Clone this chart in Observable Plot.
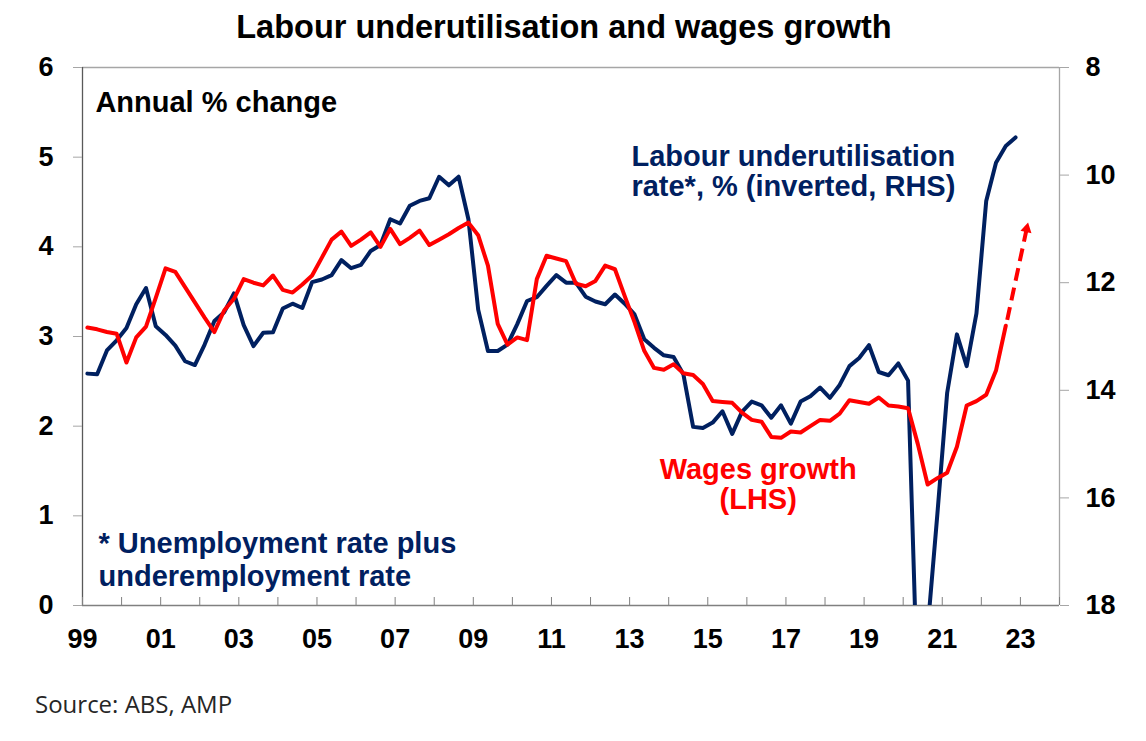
<!DOCTYPE html>
<html>
<head>
<meta charset="utf-8">
<script src="https://cdn.jsdelivr.net/npm/d3@7"></script>
<script src="https://cdn.jsdelivr.net/npm/@observablehq/plot@0.6"></script>
<style>
  html, body { margin: 0; padding: 0; background: #fff; }
  body { width: 1146px; height: 741px; overflow: hidden; position: relative; font-family: "Liberation Sans", Arial, sans-serif; }
  #title { position: absolute; left: 0; top: 11px; width: 1128px; text-align: center; font-weight: bold; font-size: 32.5px; line-height: 32px; color: #000; }
  #chart { position: absolute; left: 0; top: 54px; }
  #source { position: absolute; left: 35px; top: 692px; font-family: "Open Sans", "Noto Sans", sans-serif; font-size: 24px; line-height: 24px; color: #262626; }
</style>
</head>
<body>
<div id="title">Labour underutilisation and wages growth</div>
<div id="chart"></div>
<div id="source">Source: ABS, AMP</div>
<script>
// ---- Data (quarterly, 1999 Q1 onwards) ----
const startYear = 1999;

// Wage growth, annual % change (LHS) – 1999 Q1 to 2022 Q3
const wagesGrowth = [
  3.10, 3.08, 3.05, 3.03,   // 1999
  2.71, 2.99, 3.11, 3.43,   // 2000
  3.76, 3.72, 3.55, 3.38,   // 2001
  3.21, 3.05, 3.29, 3.42,   // 2002
  3.64, 3.60, 3.57, 3.68,   // 2003
  3.52, 3.49, 3.58, 3.68,   // 2004
  3.88, 4.08, 4.17, 4.01,   // 2005
  4.08, 4.16, 4.00, 4.20,   // 2006
  4.03, 4.10, 4.18, 4.02,   // 2007
  4.08, 4.14, 4.21, 4.27,   // 2008
  4.13, 3.79, 3.14, 2.91,   // 2009
  2.99, 2.96, 3.64, 3.90,   // 2010
  3.87, 3.84, 3.59, 3.56,   // 2011
  3.62, 3.79, 3.75, 3.45,   // 2012
  3.16, 2.84, 2.65, 2.63,   // 2013
  2.69, 2.59, 2.57, 2.47,   // 2014
  2.28, 2.27, 2.26, 2.15,   // 2015
  2.07, 2.05, 1.88, 1.87,   // 2016
  1.94, 1.93, 2.00, 2.07,   // 2017
  2.06, 2.14, 2.29, 2.27,   // 2018
  2.25, 2.32, 2.23, 2.22,   // 2019
  2.20, 1.80, 1.35, 1.42,   // 2020
  1.48, 1.77, 2.23, 2.28,   // 2021
  2.35, 2.62, 3.12          // 2022
];

// Labour underutilisation rate, % (RHS, inverted) – 1999 Q1 to 2022 Q4
const underutilisation = [
  13.69, 13.70, 13.26, 13.07,   // 1999
  12.84, 12.40, 12.10, 12.81,   // 2000
  12.97, 13.17, 13.46, 13.53,   // 2001
  13.15, 12.71, 12.55, 12.20,   // 2002
  12.79, 13.18, 12.93, 12.92,   // 2003
  12.48, 12.39, 12.47, 11.99,   // 2004
  11.94, 11.86, 11.58, 11.73,   // 2005
  11.67, 11.41, 11.30, 10.82,   // 2006
  10.90, 10.57, 10.48, 10.43,   // 2007
  10.03, 10.19, 10.03, 10.82,   // 2008
  12.50, 13.27, 13.27, 13.15,   // 2009
  12.77, 12.34, 12.27, 12.06,   // 2010
  11.86, 12.00, 12.00, 12.26,   // 2011
  12.35, 12.40, 12.22, 12.39,   // 2012
  12.59, 13.05, 13.21, 13.35,   // 2013
  13.38, 13.70, 14.68, 14.70,   // 2014
  14.60, 14.39, 14.81, 14.40,   // 2015
  14.21, 14.28, 14.51, 14.28,   // 2016
  14.62, 14.21, 14.11, 13.95,   // 2017
  14.14, 13.90, 13.55, 13.40,   // 2018
  13.16, 13.66, 13.72, 13.50,   // 2019
  13.82, 19.80, 18.45, 16.30,   // 2020
  14.05, 12.96, 13.55, 12.57,   // 2021
  10.48,  9.77,  9.46,  9.30    // 2022
];

// Axis ticks
const leftTicks = [0, 1, 2, 3, 4, 5, 6];
const rightTicks = [8, 10, 12, 14, 16, 18];
const xLabelYears = [1999, 2001, 2003, 2005, 2007, 2009, 2011, 2013, 2015, 2017, 2019, 2021, 2023];
const xTickYears = d3.range(1999, 2025);

// Forecast arrow (wages growth expected to rise)
const arrowFrom = {x: 2022.63, y: 3.12};
const arrowTo = {x: 2023.16, y: 4.20};

// Text labels
const noteAnnual = {x: 1999.33, y: 5.50, text: "Annual % change"};
const noteUnder = {x: 2017.19, y: 4.567, text: "Labour underutilisation\nrate*, % (inverted, RHS)"};
const noteWages = {x: 2016.29, y: 1.078, text: "Wages growth\n(LHS)"};
const noteFoot = {x: 1999.41, y: 0.219, text: "* Unemployment rate plus\nunderemployment rate"};

// ---- Secondary-axis mapping: RHS 8..18 (inverted) -> LHS 6..0 ----
const toLeft = r => 6 - (r - 8) * 0.6;
const fromLeft = l => Math.round(8 + (6 - l) / 0.6);

const qDate = i => startYear + (i + 0.5) / 4;
const wagesRows = wagesGrowth.map((v, i) => ({date: qDate(i), value: v}));
const underRows = underutilisation.map((v, i) => ({date: qDate(i), value: toLeft(v)}));

const textOpts = (color, anchor, lh) => ({x: "x", y: "y", text: "text", fill: color, textAnchor: anchor, lineAnchor: "bottom", fontSize: 29, fontWeight: "bold", lineHeight: lh});

const chart = Plot.plot({
  width: 1146,
  height: 606,
  marginLeft: 82,
  marginRight: 87,
  marginTop: 13,
  marginBottom: 55,
  style: {
    fontFamily: '"Liberation Sans", Arial, sans-serif',
    fontSize: "27px",
    fontWeight: "bold",
    color: "#000",
    background: "#fff",
    overflow: "visible"
  },
  x: {domain: [1999, 2024], label: null},
  y: {domain: [0, 6], label: null},
  marks: [
    Plot.ruleY([6], {stroke: "#a6a6a6", strokeWidth: 1.3}),
    Plot.ruleX([2024], {stroke: "#a6a6a6", strokeWidth: 1.3}),
    Plot.ruleX([1999], {stroke: "#595959", strokeWidth: 1.3}),
    Plot.ruleY([0], {stroke: "#808080", strokeWidth: 1.3}),
    Plot.tickX(xTickYears, {x: d => d, insetTop: 530, stroke: "#808080", strokeWidth: 1}),
    Plot.axisX({ticks: xLabelYears, tickSize: 0, tickPadding: 23, tickFormat: d => String(d % 100).padStart(2, "0")}),
    Plot.axisY({anchor: "left", ticks: leftTicks, tickFormat: d => String(d), tickSize: 9, tickPadding: 20, stroke: "#a6a6a6"}),
    Plot.axisY({anchor: "right", ticks: rightTicks.map(toLeft), tickFormat: fromLeft, tickSize: 9, tickPadding: 17, stroke: "#a6a6a6"}),
    Plot.line(underRows, {x: "date", y: "value", stroke: "#002060", strokeWidth: 4, strokeLinejoin: "round", clip: true}),
    Plot.line(wagesRows, {x: "date", y: "value", stroke: "#ff0000", strokeWidth: 4, strokeLinejoin: "round", clip: true}),
    Plot.link([{a: arrowFrom, b: arrowTo}], {x1: d => d.a.x, y1: d => d.a.y, x2: d => d.b.x, y2: d => d.b.y, stroke: "#ff0000", strokeWidth: 4, strokeDasharray: "13,7", strokeDashoffset: -6}),
    Plot.dot([arrowTo], {x: "x", y: "y", symbol: "triangle", r: 4.2, fill: "#ff0000", stroke: "none", rotate: 12.5}),
    Plot.text([noteAnnual], textOpts("#000000", "start", 1.1)),
    Plot.text([noteUnder], textOpts("#002060", "middle", 30 / 29)),
    Plot.text([noteWages], textOpts("#ff0000", "middle", 30 / 29)),
    Plot.text([noteFoot], textOpts("#002060", "start", 33 / 29))
  ]
});
document.getElementById("chart").appendChild(chart);
</script>
</body>
</html>
